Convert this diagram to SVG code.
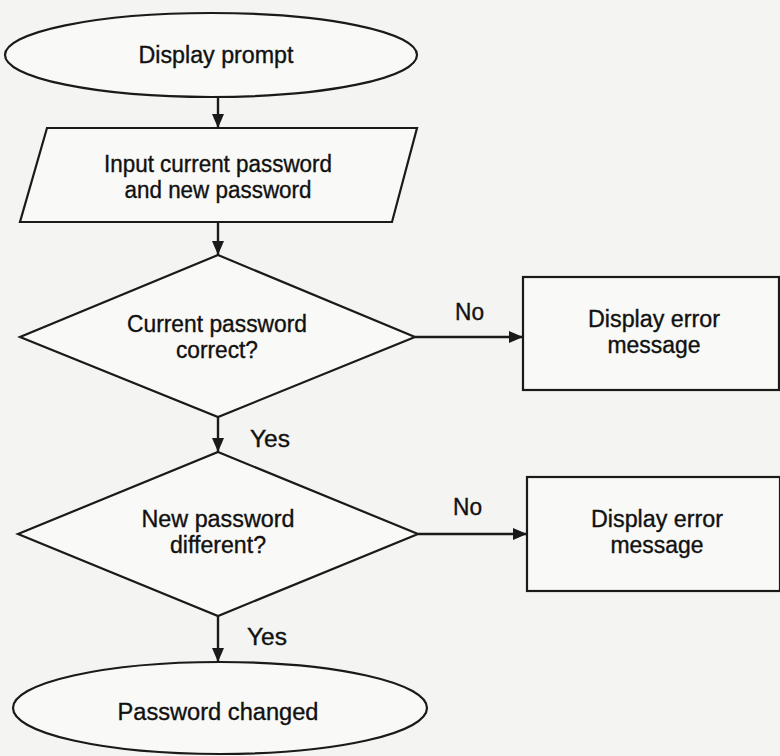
<svg xmlns="http://www.w3.org/2000/svg" width="780" height="756" viewBox="0 0 780 756">
<defs>
<style>
.shape{fill:#f9f9f7;stroke:#1a1a1a;stroke-width:2.2}
.t{font-family:"Liberation Sans",Arial,sans-serif;font-size:23px;fill:#111;stroke:#111;stroke-width:0.35;text-anchor:middle}
.lbl{font-family:"Liberation Sans",Arial,sans-serif;font-size:23px;fill:#111;stroke:#111;stroke-width:0.35}
.conn{stroke:#1a1a1a;stroke-width:2.4;fill:none}
</style>
<marker id="ah" markerUnits="userSpaceOnUse" markerWidth="14" markerHeight="12" refX="14" refY="6" orient="auto">
<path d="M0,0 L14,6 L0,12 Z" fill="#1a1a1a"/>
</marker>
</defs>
<rect x="0" y="0" width="780" height="756" fill="#f4f4f2"/>
<g id="connectors">
<line class="conn" x1="218" y1="97" x2="218" y2="128" marker-end="url(#ah)"/>
<line class="conn" x1="218" y1="222" x2="218" y2="255" marker-end="url(#ah)"/>
<line class="conn" x1="415" y1="337" x2="523" y2="337" marker-end="url(#ah)"/>
<line class="conn" x1="218" y1="417" x2="218" y2="452" marker-end="url(#ah)"/>
<line class="conn" x1="418" y1="534" x2="527" y2="534" marker-end="url(#ah)"/>
<line class="conn" x1="218" y1="616" x2="218" y2="662" marker-end="url(#ah)"/>
<text class="lbl" x="455" y="320" textLength="29" lengthAdjust="spacingAndGlyphs">No</text>
<text class="lbl" x="250" y="447" textLength="40" lengthAdjust="spacingAndGlyphs">Yes</text>
<text class="lbl" x="453" y="515" textLength="29" lengthAdjust="spacingAndGlyphs">No</text>
<text class="lbl" x="247" y="645" textLength="40" lengthAdjust="spacingAndGlyphs">Yes</text>
</g>
<g id="display-prompt">
<ellipse class="shape" cx="211" cy="55" rx="206" ry="42"/>
<text class="t" x="216" y="63" textLength="155" lengthAdjust="spacingAndGlyphs">Display prompt</text>
</g>
<g id="input-passwords">
<polygon class="shape" points="47,128 417,128 392,222 20,222"/>
<text class="t" x="218" y="172" textLength="228" lengthAdjust="spacingAndGlyphs">Input current password</text>
<text class="t" x="218" y="198" textLength="187" lengthAdjust="spacingAndGlyphs">and new password</text>
</g>
<g id="current-correct">
<polygon class="shape" points="218,255 415,337 218,417 20,337"/>
<text class="t" x="217" y="332" textLength="180" lengthAdjust="spacingAndGlyphs">Current password</text>
<text class="t" x="217" y="358" textLength="82" lengthAdjust="spacingAndGlyphs">correct?</text>
</g>
<g id="error-1">
<rect class="shape" x="523" y="277" width="256" height="113"/>
<text class="t" x="654" y="327" textLength="132" lengthAdjust="spacingAndGlyphs">Display error</text>
<text class="t" x="654" y="353" textLength="93" lengthAdjust="spacingAndGlyphs">message</text>
</g>
<g id="new-different">
<polygon class="shape" points="218,452 418,534 218,616 18,534"/>
<text class="t" x="218" y="527" textLength="153" lengthAdjust="spacingAndGlyphs">New password</text>
<text class="t" x="218" y="553" textLength="96" lengthAdjust="spacingAndGlyphs">different?</text>
</g>
<g id="error-2">
<rect class="shape" x="527" y="477" width="253" height="114"/>
<text class="t" x="657" y="527" textLength="132" lengthAdjust="spacingAndGlyphs">Display error</text>
<text class="t" x="657" y="553" textLength="93" lengthAdjust="spacingAndGlyphs">message</text>
</g>
<g id="password-changed">
<ellipse class="shape" cx="220" cy="708" rx="207" ry="46"/>
<text class="t" x="218" y="720" textLength="201" lengthAdjust="spacingAndGlyphs">Password changed</text>
</g>
</svg>
